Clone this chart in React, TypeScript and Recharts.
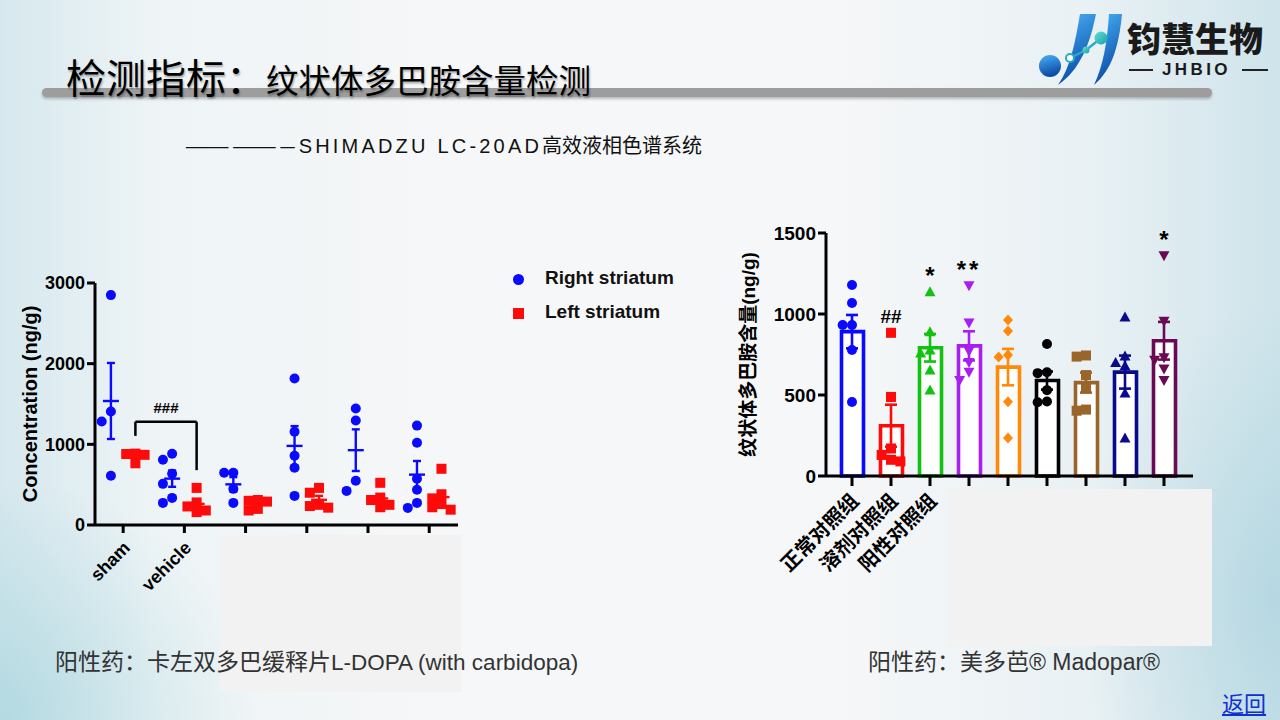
import React from 'react';
import {
  ComposedChart, Scatter, Bar, Cell, XAxis, YAxis, ErrorBar, Legend,
  ReferenceLine, ReferenceDot, Label,
} from 'recharts';

// ---- left panel: striatal dopamine, right vs left side (ng/g) ----
const leftGroups = ['sham', 'vehicle', '', '', '', ''];
const rightStriatum = [
  [2850, 1407, 1282, 610],
  [884, 809, 635, 510, 336, 274],
  [647, 647, 448, 274],
  [1817, 1157, 859, 709, 361],
  [1444, 1295, 548, 423],
  [1232, 1020, 573, 436, 274, 212],
];
const leftStriatum = [
  [885, 880, 870, 765],
  [460, 280, 230, 180, 160],
  [310, 300, 290, 200, 180],
  [460, 400, 250, 235, 215],
  [523, 340, 310, 250, 220],
  [697, 380, 330, 260, 220, 190],
];
const leftTicks = [0, 1000, 2000, 3000];
const bracketLabel = '###';
const bracketTop = 1280;

// ---- right panel: 纹状体多巴胺含量 ----
const daGroups = ['正常对照组', '溶剂对照组', '阳性对照组', '', '', '', '', '', ''];
const daValues = [
  [1179, 1068, 932, 932, 778, 457],
  [884, 488, 170, 130, 100, 90],
  [1138, 891, 778, 759, 654, 531],
  [1175, 945, 770, 700, 640, 590],
  [963, 895, 747, 735, 459, 235],
  [815, 640, 635, 530, 460, 455],
  [744, 737, 623, 543, 410, 403],
  [981, 740, 700, 680, 512, 235],
  [1360, 955, 730, 715, 660, 590],
];
const daSig = ['', '##', '*', '**', '', '', '', '', '*'];
const daTicks = [0, 500, 1000, 1500];

const groupColors = ['#0a0aff', '#ff0a0a', '#12c212', '#a81ff0', '#ff8a0a', '#000000', '#9a652a', '#0a0a8c', '#6a0a55'];
const groupShapes = ['circle', 'square', 'triangle', 'down', 'diamond', 'circle', 'square', 'triangle', 'down'];

const BLUE = '#0a0aff';
const RED = '#ff0a0a';
const SIDE = 0.2;

const mean = (a: number[]) => a.reduce((s, v) => s + v, 0) / a.length;
const sem = (a: number[]) => {
  const m = mean(a);
  const sd = Math.sqrt(a.reduce((s, v) => s + (v - m) ** 2, 0) / (a.length - 1));
  return sd / Math.sqrt(a.length);
};

// column scatter spread, roughly what prism does
function spread(vals: number[], step: number, gap: number) {
  const placed: { v: number; o: number }[] = [];
  return vals.map((v) => {
    for (const k of [0, -1, 1, -2, 2, -3, 3]) {
      const o = k * step;
      if (!placed.some((p) => Math.abs(p.v - v) < gap && Math.abs(p.o - o) < step * 0.9)) {
        placed.push({ v, o });
        return o;
      }
    }
    return 0;
  });
}

const toPoints = (groups: number[][], shift: number, step: number, gap: number) =>
  groups.flatMap((vals, i) => {
    const offs = spread(vals, step, gap);
    return vals.map((v, k) => ({ x: i + shift + offs[k], y: v }));
  });
const toMeans = (groups: number[][], shift: number) =>
  groups.map((vals, i) => ({ x: i + shift, y: mean(vals), sem: sem(vals) }));

const rightPts = toPoints(rightStriatum, -SIDE, 0.15, 130);
const leftPts = toPoints(leftStriatum, SIDE, 0.15, 110);
const rightMeans = toMeans(rightStriatum, -SIDE);
const leftMeans = toMeans(leftStriatum, SIDE);

const barData = daValues.map((v, i) => ({ x: i, mean: mean(v), sem: sem(v) }));
const sigData = daValues
  .map((v, i) => ({ x: i, y: Math.max(...v), label: daSig[i] }))
  .filter((d) => d.label);

function marker(kind: string, color: string, r = 5) {
  return (p: any) => {
    const { cx, cy } = p;
    if (cx == null || cy == null) return <g />;
    if (kind === 'circle') return <circle cx={cx} cy={cy} r={r} fill={color} />;
    if (kind === 'square') return <rect x={cx - r} y={cy - r} width={r * 2} height={r * 2} fill={color} />;
    if (kind === 'triangle')
      return <polygon points={`${cx},${cy - r - 0.5} ${cx + r + 0.5},${cy + r - 0.5} ${cx - r - 0.5},${cy + r - 0.5}`} fill={color} />;
    if (kind === 'down')
      return <polygon points={`${cx - r - 0.5},${cy - r + 0.5} ${cx + r + 0.5},${cy - r + 0.5} ${cx},${cy + r + 0.5}`} fill={color} />;
    return <polygon points={`${cx},${cy - r - 0.5} ${cx + r},${cy} ${cx},${cy + r + 0.5} ${cx - r},${cy}`} fill={color} />;
  };
}

const meanLine = (color: string, w: number) => (p: any) =>
  <line x1={p.cx - w / 2} x2={p.cx + w / 2} y1={p.cy} y2={p.cy} stroke={color} strokeWidth={2.4} />;

const LeftTick = (props: any) => {
  const { x, y, payload } = props;
  const t = leftGroups[payload.value];
  if (!t) return <g />;
  const ax = x + 8, ay = y + 14;
  return (
    <text x={ax} y={ay} transform={`rotate(-45 ${ax} ${ay})`} textAnchor="end" fontSize={18} fontWeight={700} fill="#000">
      {t}
    </text>
  );
};

const RightTick = (props: any) => {
  const { x, y, payload } = props;
  const t = daGroups[payload.value];
  if (!t) return <g />;
  const ax = x + 8, ay = y + 14;
  return (
    <text x={ax} y={ay} transform={`rotate(-45 ${ax} ${ay})`} textAnchor="end" fontSize={20} fontWeight={700} fill="#000">
      {t}
    </text>
  );
};

const axisStyle = { stroke: '#000', strokeWidth: 3 };
const tickFont = { fill: '#000', fontSize: 18, fontWeight: 700 };

function LeftChart() {
  return (
    <div style={{ position: 'absolute', left: 0, top: 260, fontFamily: "'Liberation Sans', Arial, sans-serif" }}>
      <ComposedChart width={700} height={340} margin={{ top: 23, right: 242, left: 35, bottom: 5 }}>
        <XAxis type="number" dataKey="x" domain={[-0.46, 5.47]} ticks={[0, 1, 2, 3, 4, 5]} interval={0}
          allowDataOverflow height={70} tickSize={8} axisLine={axisStyle} tickLine={axisStyle} tick={<LeftTick />} />
        <YAxis type="number" domain={[0, 3000]} ticks={leftTicks} interval={0} width={60} tickSize={8} tickMargin={2}
          axisLine={axisStyle} tickLine={axisStyle} tick={tickFont}>
          <Label content={(p: any) => {
            const vb = p.viewBox || { x: 35, y: 23, height: 242 };
            const cx = vb.x - 5, cy = vb.y + vb.height / 2;
            return (
              <text x={cx} y={cy} transform={`rotate(-90 ${cx} ${cy})`} textAnchor="middle" dominantBaseline="central"
                fontSize={20} fontWeight={700} fill="#000">Concentration (ng/g)</text>
            );
          }} />
        </YAxis>
        <ReferenceLine segment={[{ x: SIDE, y: Math.max(...leftStriatum[0]) + 220 }, { x: SIDE, y: bracketTop }]}
          stroke="#000" strokeWidth={2.5} ifOverflow="visible" />
        <ReferenceLine segment={[{ x: SIDE, y: bracketTop }, { x: 1 + SIDE, y: bracketTop }]}
          stroke="#000" strokeWidth={2.5} ifOverflow="visible" />
        <ReferenceLine segment={[{ x: 1 + SIDE, y: bracketTop }, { x: 1 + SIDE, y: Math.max(...leftStriatum[1]) + 220 }]}
          stroke="#000" strokeWidth={2.5} ifOverflow="visible" />
        <ReferenceDot x={0.5 + SIDE} y={bracketTop} r={0} stroke="none" ifOverflow="visible"
          label={{ value: bracketLabel, position: 'top', offset: 9, fill: '#000', fontSize: 15, fontWeight: 700 }} />
        <Scatter name="Right striatum" data={rightPts} dataKey="y" fill={BLUE} legendType="circle"
          shape={marker('circle', BLUE, 5)} isAnimationActive={false} />
        <Scatter name="Left striatum" data={leftPts} dataKey="y" fill={RED} legendType="square"
          shape={marker('square', RED, 5)} isAnimationActive={false} />
        <Scatter name="rm" data={rightMeans} dataKey="y" legendType="none" shape={meanLine(BLUE, 16)} isAnimationActive={false}>
          <ErrorBar dataKey="sem" direction="y" width={4} stroke={BLUE} strokeWidth={2.4} />
        </Scatter>
        <Scatter name="lm" data={leftMeans} dataKey="y" legendType="none" shape={meanLine(RED, 16)} isAnimationActive={false}>
          <ErrorBar dataKey="sem" direction="y" width={4} stroke={RED} strokeWidth={2.4} />
        </Scatter>
        <Legend layout="vertical" align="center" verticalAlign="middle" iconSize={11}
          itemSorter={(item: any) => (item.value === 'Right striatum' ? 0 : 1)}
          wrapperStyle={{ left: 513, top: 1, width: 190, lineHeight: '33px' }}
          formatter={(v: any) => (
            <span style={{ color: '#111', fontSize: 19, fontWeight: 700, paddingLeft: 17 }}>{v}</span>
          )} />
      </ComposedChart>
    </div>
  );
}

function RightChart() {
  return (
    <div style={{ position: 'absolute', left: 720, top: 210, fontFamily: "'Liberation Sans', 'Noto Sans CJK SC', sans-serif" }}>
      <ComposedChart width={480} height={400} data={barData} margin={{ top: 23, right: 7, left: 46, bottom: 4 }}>
        <XAxis xAxisId="cat" type="category" dataKey="x" hide height={0} padding={{ left: 6.5, right: 9.5 }} />
        <XAxis xAxisId="num" type="number" dataKey="x" domain={[-0.667, 8.744]} ticks={[0, 1, 2, 3, 4, 5, 6, 7, 8]} interval={0}
          allowDataOverflow height={130} tickSize={10} axisLine={axisStyle} tickLine={axisStyle} tick={<RightTick />} />
        <YAxis type="number" domain={[0, 1500]} ticks={daTicks} interval={0} width={60} tickSize={8} tickMargin={2}
          axisLine={axisStyle} tickLine={axisStyle} tick={{ ...tickFont, fontSize: 19 }}>
          <Label content={(p: any) => {
            const vb = p.viewBox || { x: 46, y: 23, height: 243 };
            const cx = vb.x - 18, cy = vb.y + vb.height / 2;
            return (
              <text x={cx} y={cy} transform={`rotate(-90 ${cx} ${cy})`} textAnchor="middle" dominantBaseline="central"
                fontSize={19} fontWeight={700} fill="#000">纹状体多巴胺含量(ng/g)</text>
            );
          }} />
        </YAxis>
        <Bar xAxisId="cat" dataKey="mean" barSize={22} fill="#ffffff" strokeWidth={3.6} isAnimationActive={false}>
          {barData.map((d, i) => <Cell key={i} stroke={groupColors[i]} fill="#ffffff" />)}
        </Bar>
        {daValues.map((vals, i) => {
          const offs = spread(vals, 0.24, 55);
          const pts = vals.map((v, k) => ({ x: i + offs[k], y: v }));
          return (
            <Scatter key={'p' + i} xAxisId="num" data={pts} dataKey="y" fill={groupColors[i]}
              shape={marker(groupShapes[i], groupColors[i], 5)} isAnimationActive={false} />
          );
        })}
        {barData.map((d, i) => (
          <Scatter key={'e' + i} xAxisId="num" data={[d]} dataKey="mean" shape={() => <g />} isAnimationActive={false}>
            <ErrorBar dataKey="sem" direction="y" width={6} stroke={groupColors[i]} strokeWidth={2.6} />
          </Scatter>
        ))}
        <Scatter xAxisId="num" data={sigData} dataKey="y" isAnimationActive={false}
          shape={(p: any) => (
            <text x={p.cx} y={p.cy - (p.payload.label.startsWith('#') ? 10 : 8)} textAnchor="middle"
              fontSize={p.payload.label.startsWith('#') ? 19 : 24} fontWeight={700} fill="#000"
              letterSpacing={p.payload.label === '**' ? 3 : 0}>
              {p.payload.label}
            </text>
          )} />
      </ComposedChart>
    </div>
  );
}

function Logo() {
  return (
    <>
      <svg width={92} height={80} style={{ position: 'absolute', left: 1030, top: 8 }}>
        <defs>
          <linearGradient id="lgBlue" x1="0" y1="0" x2="0.3" y2="1">
            <stop offset="0" stopColor="#49b3f5" />
            <stop offset="1" stopColor="#0b4aa8" />
          </linearGradient>
          <linearGradient id="lgTeal" x1="0" y1="0" x2="1" y2="1">
            <stop offset="0" stopColor="#5fe0d0" />
            <stop offset="1" stopColor="#1a9fb0" />
          </linearGradient>
        </defs>
        <path d="M50 6 L66 6 C 60 36, 50 62, 28 77 C 40 60, 45 36, 50 6 Z" fill="url(#lgBlue)" />
        <circle cx={20} cy={58} r={11} fill="url(#lgBlue)" />
        <path d="M79 6 L92 6 C 89 38, 82 62, 64 77 C 73 58, 77 36, 79 6 Z" fill="url(#lgBlue)" />
        <polyline points="40,50 56,42 70,31" fill="none" stroke="#2aa9c8" strokeWidth={2.5} />
        <circle cx={40} cy={50} r={4} fill="#fff" stroke="#2aa9c8" strokeWidth={2} />
        <circle cx={56} cy={42} r={3.5} fill="url(#lgTeal)" />
        <circle cx={71} cy={30} r={6.5} fill="url(#lgTeal)" />
      </svg>
      <div style={{ position: 'absolute', left: 1127, top: 21, fontFamily: "'Noto Sans CJK SC', sans-serif", fontSize: 34, fontWeight: 900, color: '#1a1a1a', lineHeight: '34px', whiteSpace: 'nowrap' }}>
        钧慧生物
      </div>
      <div style={{ position: 'absolute', left: 1129, top: 69, width: 24, height: 2, background: '#222' }} />
      <div style={{ position: 'absolute', left: 1242, top: 69, width: 26, height: 2, background: '#222' }} />
      <div style={{ position: 'absolute', left: 1162, top: 63, fontFamily: "'Liberation Sans', Arial, sans-serif", fontSize: 17, fontWeight: 700, letterSpacing: 3.4, color: '#1a1a1a', lineHeight: '14px' }}>
        JHBIO
      </div>
    </>
  );
}

export default function App() {
  const cjk = "'Noto Sans CJK SC', sans-serif";
  const latin = "'Liberation Sans', Arial, sans-serif";
  return (
    <div style={{
      position: 'absolute', left: 0, top: 0, width: 1280, height: 720, overflow: 'hidden',
      background: 'linear-gradient(90deg, #d6e8ee 0%, #eef4f6 12%, #f6f7f8 35%, #f6f7f8 65%, #e9f1f4 85%, #cfe4eb 100%)',
    }}>
      <div style={{ position: 'absolute', inset: 0, background: 'radial-gradient(ellipse 260px 240px at 0px 720px, rgba(150,205,215,0.55), rgba(150,205,215,0))' }} />
      <div style={{ position: 'absolute', inset: 0, background: 'radial-gradient(ellipse 200px 300px at 1280px 600px, rgba(150,200,215,0.45), rgba(150,200,215,0))' }} />

      <div style={{ position: 'absolute', left: 42, top: 88, width: 1170, height: 9, borderRadius: 5, background: '#9d9d9d', boxShadow: '0 2px 3px rgba(0,0,0,0.25)' }} />
      <div style={{ position: 'absolute', left: 66, top: 56, fontFamily: cjk, color: '#000', lineHeight: 1, whiteSpace: 'nowrap', textShadow: '1px 2px 2px rgba(0,0,0,0.3)' }}>
        <span style={{ fontSize: 40 }}>检测指标：</span>
        <span style={{ fontSize: 32.5 }}>纹状体多巴胺含量检测</span>
      </div>
      <Logo />

      <div style={{ position: 'absolute', left: 185, top: 132, color: '#111', whiteSpace: 'nowrap', lineHeight: '26px' }}>
        <span style={{ fontFamily: cjk, fontSize: 18, letterSpacing: 3 }}>———————</span>
        <span style={{ fontFamily: latin, fontSize: 20, letterSpacing: 3.2 }}>SHIMADZU LC-20AD</span>
        <span style={{ fontFamily: cjk, fontSize: 20 }}>高效液相色谱系统</span>
      </div>

      <LeftChart />
      <RightChart />

      <div style={{ position: 'absolute', left: 220, top: 535, width: 241, height: 157, background: '#f2f2f2' }} />
      <div style={{ position: 'absolute', left: 949, top: 489, width: 263, height: 157, background: '#f2f2f2' }} />

      <div style={{ position: 'absolute', left: 55, top: 645, color: '#333', whiteSpace: 'nowrap', lineHeight: '30px' }}>
        <span style={{ fontFamily: cjk, fontSize: 23 }}>阳性药：卡左双多巴缓释片</span>
        <span style={{ fontFamily: latin, fontSize: 22.5 }}>L-DOPA (with carbidopa)</span>
      </div>
      <div style={{ position: 'absolute', left: 868, top: 645, color: '#333', whiteSpace: 'nowrap', lineHeight: '30px' }}>
        <span style={{ fontFamily: cjk, fontSize: 23 }}>阳性药：美多芭</span>
        <span style={{ fontFamily: latin, fontSize: 23 }}>® Madopar®</span>
      </div>
      <div style={{ position: 'absolute', left: 1222, top: 688, fontFamily: cjk, fontSize: 22, color: '#1030d0', textDecoration: 'underline', lineHeight: '28px' }}>
        返回
      </div>
    </div>
  );
}
